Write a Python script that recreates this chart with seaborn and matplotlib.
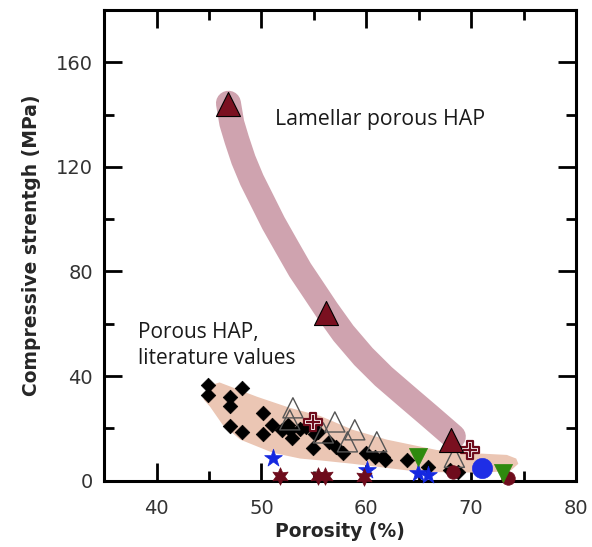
import numpy as np
import pandas as pd
import matplotlib
matplotlib.use("Agg")
import matplotlib.pyplot as plt
import seaborn as sns

# ---------------- data ----------------
# Lamellar porous HAP
lam_x = [46.8, 56.2, 68.1]
lam_y = [144.0, 64.0, 15.5]
# highlight band for lamellar series (centre line)
lam_band_x = [46.85, 47.17, 47.65, 48.28, 49.08, 50.03, 51.14, 52.41, 53.68, 54.95, 56.23,
              57.82, 59.72, 61.63, 63.86, 66.08, 68.3]
lam_band_y = [144.3, 136.7, 130.3, 122.7, 115.0, 107.4, 98.5, 89.5, 80.6, 73.0, 65.3,
              56.4, 47.5, 39.9, 32.2, 24.6, 16.9]

# literature band outline
lit_band_x = [44.5, 45.0, 46.0, 49.6, 52.7, 55.6, 58.7, 62.0, 66.7, 70.0, 73.4, 74.3, 74.5, 73.8,
              71.5, 65.1, 58.7, 55.6, 53.7, 51.1, 48.0, 46.3, 45.1, 44.5]
lit_band_y = [33.0, 36.3, 37.6, 32.1, 27.9, 24.8, 19.5, 15.7, 11.8, 10.6, 9.9, 8.5, 6.5, 4.0,
              3.1, 3.4, 6.5, 7.8, 8.5, 10.7, 15.7, 21.4, 28.3, 31.0]

# literature values
dia_x = [44.9, 44.9, 47.0, 48.1, 47.0, 50.1, 47.0, 48.1, 50.1, 51.0, 52.0, 52.7, 52.9, 53.7, 54.2,
         55.1, 54.9, 55.4, 56.4, 57.1, 57.8, 60.0, 60.8, 61.6, 61.8, 63.9, 65.9, 68.0, 68.7, 52.5]
dia_y = [36.7, 32.9, 32.1, 35.5, 28.7, 26.0, 21.0, 18.7, 18.0, 21.4, 19.5, 19.5, 16.4, 19.9, 20.6,
         18.0, 12.6, 18.7, 14.9, 13.0, 10.7, 10.7, 9.2, 9.2, 8.0, 8.0, 5.3, 4.2, 3.4, 21.4]

otri_x = [53.0, 52.7, 57.0, 58.9, 58.2, 61.0, 55.9, 68.4]
otri_y = [27.9, 23.3, 22.5, 19.5, 14.9, 14.9, 18.3, 9.0]

cross_x = [54.9, 69.9]
cross_y = [22.5, 11.8]

bstar_x = [51.1, 60.1, 64.9, 65.9]
bstar_y = [8.8, 4.2, 3.1, 2.3]

hex_x = [51.8, 55.4, 56.1, 59.8]
hex_y = [2.0, 2.0, 1.8, 1.6]

gtri_x = [64.9, 73.0]
gtri_y = [9.2, 3.1]

bcirc_x = [71.0]
bcirc_y = [5.0]

mcirc_x = [68.3, 73.5]
mcirc_y = [3.4, 1.1]

x_ticks = [40, 50, 60, 70, 80]
y_ticks = [0, 40, 80, 120, 160]

# ---------------- style ----------------
sns.set_theme(style="ticks")
plt.rcParams["font.family"] = ["DejaVu Sans"]

maroon = "#6e0c1c"
fig = plt.figure(figsize=(5.92, 5.47), dpi=100)
ax = fig.add_axes([0.176, 0.121, 0.797, 0.861])

# bands
ax.fill(lit_band_x, lit_band_y, color="#ebc6b4", lw=0, zorder=1)
sns.lineplot(x=lam_band_x, y=lam_band_y, ax=ax, color="#cfa3af", lw=18,
             solid_capstyle="round", solid_joinstyle="round", sort=False,
             estimator=None, zorder=2)

common = dict(ax=ax, clip_on=False, legend=False)
sns.scatterplot(x=dia_x, y=dia_y, marker="D", s=55, color="black", edgecolor="black",
                linewidth=0.5, zorder=3, **common)
sns.scatterplot(x=otri_x, y=otri_y, marker="^", s=210, facecolor="none", edgecolor="#555555",
                linewidth=1.0, zorder=4, **common)
sns.scatterplot(x=cross_x, y=cross_y, marker="P", s=150, facecolor="white", edgecolor=maroon,
                linewidth=1.6, zorder=5, **common)
sns.scatterplot(x=cross_x, y=cross_y, marker="+", s=90, color=maroon,
                linewidth=1.6, zorder=6, **common)
sns.scatterplot(x=bstar_x, y=bstar_y, marker="*", s=180, color="#1428e0", edgecolor="#1428e0",
                linewidth=0.5, zorder=5, **common)
sns.scatterplot(x=hex_x, y=hex_y, marker=(6, 1, 0), s=160, color=maroon, edgecolor=maroon,
                linewidth=0.5, zorder=6, **common)
sns.scatterplot(x=gtri_x, y=gtri_y, marker="v", s=170, color="#2e8a0e", edgecolor="#2e8a0e",
                linewidth=0.5, zorder=6, **common)
sns.scatterplot(x=mcirc_x, y=mcirc_y, marker="o", s=95, color=maroon, edgecolor=maroon,
                linewidth=0.5, zorder=5, **common)
sns.scatterplot(x=bcirc_x, y=bcirc_y, marker="o", s=210, color="#1f2ee6", edgecolor="#1f2ee6",
                linewidth=0.5, zorder=6, **common)
sns.scatterplot(x=lam_x, y=lam_y, marker="^", s=300, color="#7a1020", edgecolor="black",
                linewidth=0.8, zorder=7, **common)

# text
ax.text(51.3, 138, "Lamellar porous HAP", fontsize=15.3, family=["Open Sans", "DejaVu Sans"],
        color="#1a1a1a", va="center", ha="left")
ax.text(38.2, 51.8, "Porous HAP,\nliterature values", fontsize=15,
        family=["Open Sans", "DejaVu Sans"], color="#1a1a1a", va="center", ha="left",
        linespacing=1.3)

# axes
ax.set_xlim(35, 80)
ax.set_ylim(0, 180)
ax.set_xticks(x_ticks)
ax.set_yticks(y_ticks)
ax.set_xticks(np.arange(45, 80, 10), minor=True)
ax.set_yticks(np.arange(20, 180, 40), minor=True)
ax.tick_params(which="both", direction="in", top=True, right=True, width=2,
               labelsize=14, labelcolor="#333333", color="black")
ax.tick_params(axis="y", which="both", pad=8)
ax.tick_params(axis="x", which="both", pad=13)
ax.tick_params(which="major", length=13)
ax.tick_params(which="minor", length=7)
for sp in ax.spines.values():
    sp.set_linewidth(2.2)
    sp.set_color("black")
    sp.set_visible(True)
ax.set_xlabel("Porosity (%)", fontsize=13.5, fontweight="bold", labelpad=3)
ax.set_ylabel("Compressive strentgh (MPa)", fontsize=13.5, fontweight="bold", labelpad=11)

fig.savefig("out.png", dpi=100, facecolor="white")
